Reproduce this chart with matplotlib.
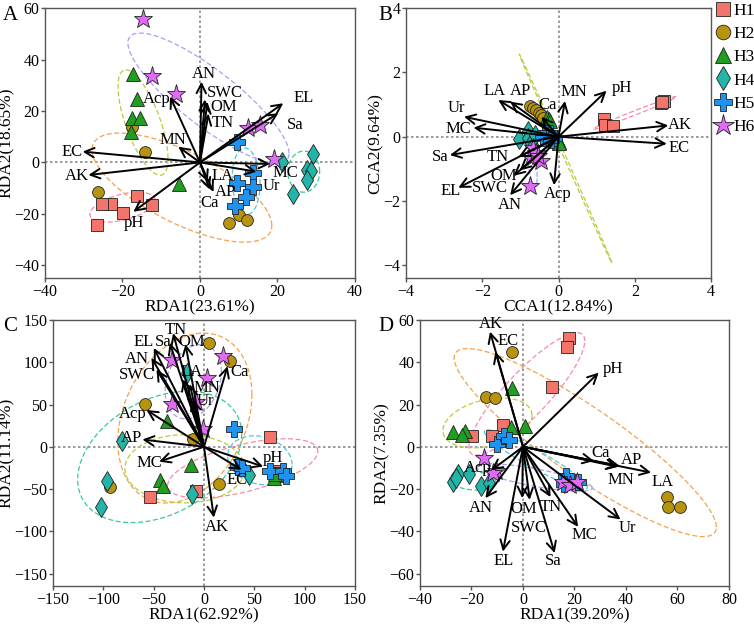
#RDA / CCA ordination plots, four panels

import numpy as np
import matplotlib.pyplot as plt
from matplotlib.lines import Line2D

plt.rcParams['font.family'] = ['Liberation Serif', 'DejaVu Serif']

#groups and styles
groups = ['H1', 'H2', 'H3', 'H4', 'H5', 'H6']
markers = ['s', 'o', '^', 'd', 'P', '*']
fills = ['#f2746a', '#b8940e', '#1f9e1f', '#22b5a8', '#1e94f0', '#e06cf5']
msizes = [8, 8.5, 10, 10, 11, 14]
ell_colors = ['#f78aa8', '#f5a24a', '#b9cc3a', '#3cc895', '#4cc6e0', '#a3a3f2']

#Panel A (RDA)
a_x = [[-16.3, -12.5, -23.0, -25.3, -19.8, -26.6],
       [-17.6, -14.2, -26.4, 7.6, 10.1, 12.2],
       [-17.2, -16.3, -17.6, -15.5, -17.8, -5.4],
       [21.1, 29.2, 27.7, 28.6, 27.7, 23.9],
       [9.6, 13.6, 9.5, 13.6, 11.9, 9.0],
       [-14.6, -12.3, -6.3, 12.5, 15.5, 19.1]]
a_y = [[-13.0, -16.4, -16.0, -16.1, -19.7, -24.2],
       [13.6, 3.9, -11.7, -23.5, -20.3, -22.5],
       [34.4, 24.7, 17.1, 17.1, 11.9, -8.4],
       [0.0, 3.2, -3.0, -3.5, -6.9, -12.1],
       [7.8, -4.2, -8.2, -9.5, -13.4, -16.9],
       [55.7, 33.6, 26.6, 13.2, 14.4, 1.3]]
a_env = ['AN', 'SWC', 'OM', 'TN', 'Acp', 'MN', 'EC', 'AK', 'pH', 'LA', 'AP', 'Ca', 'EL', 'Sa', 'MC', 'Ur']
a_tip_x = [0.4, 1.3, 1.9, 2.2, -7.7, -5.6, -30.3, -28.8, -17.2, 2.0, 3.5, 2.5, 21.5, 20.2, 18.1, 14.6]
a_tip_y = [31.4, 24.5, 23.6, 19.0, 25.6, 6.1, 4.2, -4.9, -19.2, -7.5, -11.5, -10.5, 23.0, 19.1, -0.6, -3.6]
a_lab_x = [0.9, 6.5, 6.2, 5.9, -11.2, -6.9, -32.9, -31.8, -17.0, 5.9, 6.7, 2.6, 26.7, 24.5, 22.0, 18.5]
a_lab_y = [34.4, 26.9, 21.4, 15.5, 24.8, 8.7, 4.2, -5.2, -23.5, -5.2, -11.7, -15.6, 25.2, 14.5, -4.3, -9.1]
#ellipses: centre x, centre y, half range x, half range y, phase (deg)
a_ell = [(-20.0, -17.4, 8.4, 5.8, 62),
         (-4.65, -9.8, 23.2, 21.2, 134),
         (-14.7, 15.5, 6.45, 20.5, 133),
         (26.8, -3.6, 4.1, 8.0, 90),
         (11.9, -7.3, 3.6, 12.9, 95),
         (2.2, 25.0, 20.8, 25.3, 148)]

#Panel B (CCA)
b_x = [[1.18, 1.22, 1.44, 2.70, 2.76, 2.72],
       [-0.76, -0.66, -0.60, -0.52, -0.45, -0.42],
       [-0.30, -0.25, -0.22, 0.02, -0.02, 0.0],
       [-1.03, -0.80, -0.80, -0.72, -0.66, -0.62],
       [-0.22, -0.35, -0.26, -0.13, -0.40, -0.20],
       [-0.76, -0.71, -0.45, -0.67, -0.60, -0.55]]
b_y = [[0.55, 0.36, 0.33, 1.05, 1.10, 1.07],
       [0.96, 0.90, 0.82, 0.74, 0.66, 0.58],
       [0.62, 0.55, 0.50, -0.15, -0.10, -0.20],
       [-0.07, 0.18, -0.05, -0.20, -0.30, 0.05],
       [0.12, 0.12, 0.0, -0.03, -0.03, -0.10],
       [-1.54, -0.66, -0.76, -0.36, -0.50, -0.60]]
b_env = ['LA', 'AP', 'Ca', 'MN', 'pH', 'AK', 'EC', 'Ur', 'MC', 'Sa', 'TN', 'OM', 'SWC', 'EL', 'AN', 'Acp']
b_tip_x = [-1.58, -1.27, -0.45, 0.17, 1.26, 2.88, 2.84, -2.48, -2.23, -2.85, -1.05, -1.02, -1.18, -2.63, -1.27, -0.12]
b_tip_y = [1.14, 1.09, 0.62, 1.11, 1.43, 0.35, -0.22, 0.62, 0.28, -0.57, -0.63, -1.05, -1.22, -1.59, -1.82, -1.51]
b_lab_x = [-1.67, -0.99, -0.29, 0.39, 1.66, 3.19, 3.17, -2.67, -2.63, -3.11, -1.60, -1.45, -1.79, -2.83, -1.27, -0.02]
b_lab_y = [1.43, 1.43, 0.99, 1.38, 1.51, 0.35, -0.36, 0.89, 0.23, -0.64, -0.64, -1.23, -1.61, -1.68, -2.11, -1.78]
b_ell = [(2.0, 0.74, 1.09, 0.51, 8),
         (-0.6, 0.78, 0.18, 0.20, 165),
         (0.185, -0.68, 1.215, 3.25, 178.5),
         (-0.83, -0.05, 0.22, 0.30, 120),
         (-0.26, 0.02, 0.15, 0.15, 90),
         (-0.68, -0.95, 0.12, 0.60, 120)]

#Panel C (RDA)
c_x = [[65.5, -53.2, -7.5, 72.1, 73.8, 70.4],
       [4.8, 25.7, -58.8, -11.4, -93.6, 15.1],
       [-36.3, -13.1, -43.9, -40.6, 69.4, 71.0],
       [-16.7, -81.4, -96.0, -101.9, -12.4, 44.9],
       [30.0, 34.0, 37.3, 65.5, 78.1, 81.4],
       [19.1, -31.7, 2.5, -31.7, -7.5, -0.8]]
c_y = [[11.7, -59.2, -51.8, -28.4, -35.1, -31.2],
       [122.7, 101.3, 50.3, 9.0, -47.9, -44.0],
       [30.4, -21.4, -39.0, -46.7, -37.0, -32.0],
       [86.9, 6.6, -40.1, -70.9, -55.3, -33.9],
       [21.4, -23.4, -25.3, -29.2, -29.2, -34.3],
       [107.9, 102.1, 81.8, 50.6, 52.6, 21.4]]
c_env = ['TN', 'EL', 'Sa', 'OM', 'AN', 'SWC', 'LA', 'MN', 'Ur', 'Ca', 'Acp', 'AP', 'MC', 'EC', 'pH', 'AK']
c_tip_x = [-30.7, -49.9, -34.0, -18.4, -52.2, -47.2, -20.7, -14.1, -10.8, 23.4, -57.2, -61.2, -44.6, 37.3, 58.8, 9.8]
c_tip_y = [134.4, 116.9, 122.7, 121.5, 105.2, 91.5, 79.9, 74.2, 56.5, 95.4, 43.6, 8.6, -17.5, -27.3, -23.4, -83.8]
c_lab_x = [-28.3, -60.0, -40.6, -11.8, -67.1, -67.1, -12.4, 2.5, 1.8, 35.6, -70.4, -72.1, -54.5, 33.0, 68.1, 13.1]
c_lab_y = [138.3, 123.9, 123.5, 123.9, 104.0, 84.5, 88.4, 69.0, 53.8, 88.4, 39.0, 10.5, -19.5, -39.0, -13.6, -95.4]
c_ell = [(38.5, -25.5, 74.6, 35.0, 55),
         (-19.0, 34.0, 66.6, 100.5, 74),
         (-19.0, -26.0, 59.6, 40.4, 90),
         (-44.0, -12.0, 81.5, 77.7, 70),
         (55.5, -16.0, 32.0, 29.0, 100),
         (-10.7, 77.0, 28.0, 44.0, 75)]

#Panel D (RDA)
d_x = [[17.9, 17.1, 11.3, -7.8, -12.2, -19.7],
       [-4.3, -14.5, -10.9, 56.1, 56.5, 60.8],
       [-4.3, 0.6, -4.5, -27.2, -22.7, -23.7],
       [-27.0, -25.2, -21.0, -16.4, -13.2, -26.0],
       [-10.2, -7.4, -5.4, 16.6, 15.9, 21.4],
       [-15.1, -10.3, 15.5, 18.2, 21.0, -11.5]]
d_y = [[51.4, 47.4, 28.1, 10.4, 5.3, 5.0],
       [45.0, 23.5, 23.1, -23.8, -28.5, -28.5],
       [27.9, 9.7, 9.2, 6.9, 7.6, 5.8],
       [-16.8, -12.9, -12.9, -18.4, -17.3, -15.0],
       [1.4, 5.0, 3.4, -14.0, -17.6, -16.8],
       [-5.1, -11.5, -16.9, -18.2, -16.5, -12.5]]
d_env = ['AK', 'EC', 'pH', 'Ca', 'AP', 'MN', 'LA', 'Ur', 'MC', 'Sa', 'TN', 'SWC', 'OM', 'EL', 'AN', 'Acp']
d_tip_x = [-12.8, -10.7, 29.4, 27.6, 37.5, 36.9, 49.8, 37.9, 21.4, 12.3, 10.7, 2.6, -0.3, -7.8, -14.6, -12.3]
d_tip_y = [54.5, 45.0, 35.1, -6.7, -9.0, -9.5, -12.2, -34.4, -37.9, -50.3, -23.8, -25.1, -24.3, -49.6, -24.3, -11.1]
d_lab_x = [-12.5, -5.6, 35.0, 30.2, 42.3, 37.9, 54.4, 40.5, 23.7, 11.9, 11.0, 2.2, 0.4, -7.4, -16.2, -17.5]
d_lab_y = [58.0, 49.9, 36.9, -2.8, -6.4, -15.7, -16.8, -38.6, -41.8, -54.2, -28.5, -38.2, -29.6, -54.2, -28.8, -10.1]
d_ell = [(1.5, 25.0, 22.5, 29.0, 30),
         (24.2, 2.0, 50.9, 44.5, 154),
         (-13.8, 11.3, 17.3, 11.8, 72),
         (-19.5, -16.0, 9.0, 4.5, 100),
         (5.0, -6.0, 20.0, 14.0, 160),
         (4.5, -14.5, 22.5, 6.5, 140)]


def draw_panel(ax, px, py, ell, env, tx, ty, lx, ly):
    ax.axhline(0, color='#8a8a8a', lw=1.2, ls=(0, (1.5, 1.5)), zorder=0)
    ax.axvline(0, color='#8a8a8a', lw=1.2, ls=(0, (1.5, 1.5)), zorder=0)
    t = np.linspace(0, 2 * np.pi, 300)
    for i, (cx, cy, rx, ry, ph) in enumerate(ell):
        ax.plot(cx + rx * np.cos(t), cy + ry * np.cos(t - np.radians(ph)),
                color=ell_colors[i], lw=0.9, ls=(0, (4, 2)), zorder=1)
    for i in range(len(groups)):
        ax.plot(px[i], py[i], ls='none', marker=markers[i], ms=msizes[i],
                mfc=fills[i], mec='#222222', mew=0.6, zorder=3)
    for name, x, y, x2, y2 in zip(env, tx, ty, lx, ly):
        ax.annotate('', xy=(x, y), xytext=(0, 0),
                    arrowprops=dict(arrowstyle='->', color='black', lw=1.4,
                                    shrinkA=0, shrinkB=0, mutation_scale=17),
                    zorder=4)
        ax.text(x2, y2, name, fontsize=12, ha='center', va='center', zorder=5)
    for s in ax.spines.values():
        s.set_color('#555555')
        s.set_linewidth(1.0)
    ax.tick_params(labelsize=11.5, length=3, width=1, color='#555555', pad=1)


fig = plt.figure(figsize=(7.54, 6.25), dpi=100)
axA = fig.add_axes([0.0597, 0.555, 0.411, 0.432])
axB = fig.add_axes([0.5385, 0.555, 0.4045, 0.432])
axC = fig.add_axes([0.0703, 0.062, 0.4005, 0.426])
axD = fig.add_axes([0.557, 0.062, 0.4098, 0.426])

draw_panel(axA, a_x, a_y, a_ell, a_env, a_tip_x, a_tip_y, a_lab_x, a_lab_y)
axA.set_xlim(-40, 40)
axA.set_ylim(-45, 60)
axA.set_xticks([-40, -20, 0, 20, 40])
axA.set_yticks([-40, -20, 0, 20, 40, 60])
axA.set_xlabel('RDA1(23.61%)', fontsize=12.5, labelpad=0)
axA.set_ylabel('RDA2(18.65%)', fontsize=12.5, labelpad=0)

draw_panel(axB, b_x, b_y, b_ell, b_env, b_tip_x, b_tip_y, b_lab_x, b_lab_y)
axB.set_xlim(-4, 4)
axB.set_ylim(-4.4, 4)
axB.set_xticks([-4, -2, 0, 2, 4])
axB.set_yticks([-4, -2, 0, 2, 4])
axB.set_xlabel('CCA1(12.84%)', fontsize=12.5, labelpad=0)
axB.set_ylabel('CCA2(9.64%)', fontsize=12.5, labelpad=0)

draw_panel(axC, c_x, c_y, c_ell, c_env, c_tip_x, c_tip_y, c_lab_x, c_lab_y)
axC.set_xlim(-150, 150)
axC.set_ylim(-165, 150)
axC.set_xticks(np.arange(-150, 151, 50))
axC.set_yticks(np.arange(-150, 151, 50))
axC.set_xlabel('RDA1(62.92%)', fontsize=12.5, labelpad=-0.5)
axC.set_ylabel('RDA2(11.14%)', fontsize=12.5, labelpad=0)

draw_panel(axD, d_x, d_y, d_ell, d_env, d_tip_x, d_tip_y, d_lab_x, d_lab_y)
axD.set_xlim(-40, 80)
axD.set_ylim(-66, 60)
axD.set_xticks(np.arange(-40, 81, 20))
axD.set_yticks(np.arange(-60, 61, 20))
axD.set_xlabel('RDA1(39.20%)', fontsize=12.5, labelpad=-0.5)
axD.set_ylabel('RDA2(7.35%)', fontsize=12.5, labelpad=0)

#panel letters
for letter, x, y in [('A', 0.004, 0.976), ('B', 0.502, 0.976), ('C', 0.004, 0.478), ('D', 0.502, 0.478)]:
    fig.text(x, y, letter, fontsize=15, ha='left', va='center')

#legend
handles = [Line2D([], [], ls='none', marker=markers[i], ms=msizes[i] + 2,
                  mfc=fills[i], mec='#222222', mew=0.6) for i in range(len(groups))]
fig.legend(handles, groups, loc='upper left', bbox_to_anchor=(0.948, 0.995),
           frameon=False, fontsize=12.5, handlelength=1.0, handletextpad=0.05,
           labelspacing=0.4, borderaxespad=0, borderpad=0)

plt.savefig('out.png', dpi=100)
